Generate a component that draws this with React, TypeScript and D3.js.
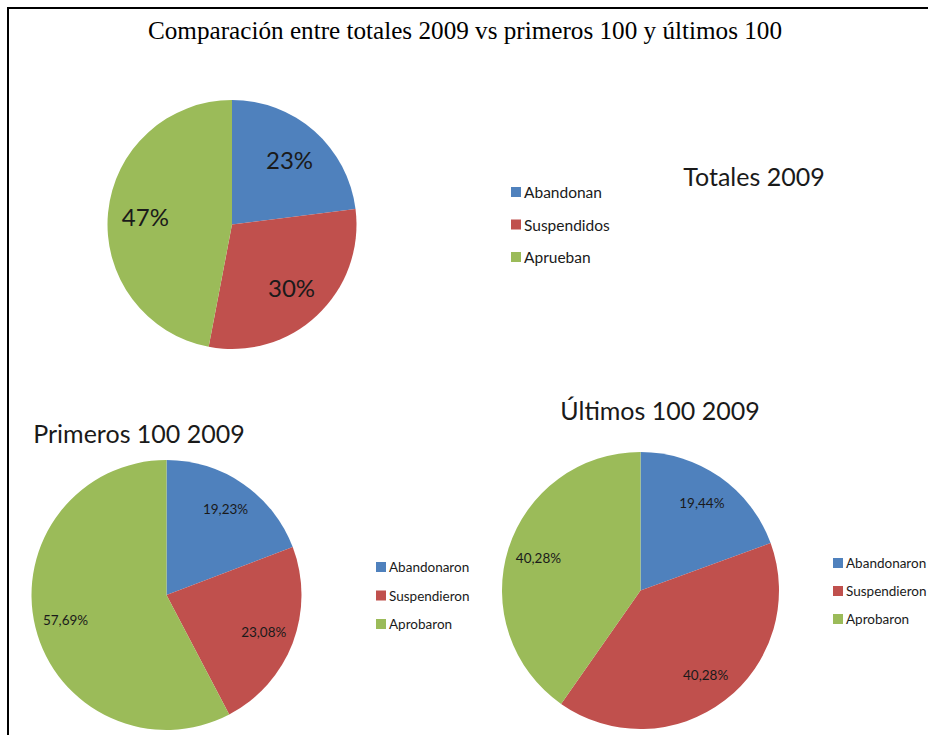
import React from "react";
import * as d3 from "d3";

const colors = ["#4F81BD", "#C0504D", "#9BBB59"];

const title = "Comparación entre totales 2009 vs primeros 100 y últimos 100";

const totalCategories = ["Abandonan", "Suspendidos", "Aprueban"];
const totalValues = [23, 30, 47];
const totalLabels = ["23%", "30%", "47%"];

const firstCategories = ["Abandonaron", "Suspendieron", "Aprobaron"];
const firstValues = [19.23, 23.08, 57.69];
const firstLabels = ["19,23%", "23,08%", "57,69%"];

const lastCategories = ["Abandonaron", "Suspendieron", "Aprobaron"];
const lastValues = [19.44, 40.28, 40.28];
const lastLabels = ["19,44%", "40,28%", "40,28%"];

const FONT = "Lato, 'Open Sans', sans-serif";

type PieProps = {
  values: number[];
  labels: string[];
  cx: number;
  cy: number;
  r: number;
  labelR: number;
  fontSize: number;
};

function Pie({ values, labels, cx, cy, r, labelR, fontSize }: PieProps) {
  const pie = d3.pie<number>().sort(null).value((d) => d);
  const arcs = pie(values);
  const arc = d3.arc<d3.PieArcDatum<number>>().innerRadius(0).outerRadius(r);
  const labelArc = d3
    .arc<d3.PieArcDatum<number>>()
    .innerRadius(labelR)
    .outerRadius(labelR);
  return (
    <g transform={`translate(${cx},${cy})`}>
      {arcs.map((a, i) => (
        <path key={i} d={arc(a) || ""} fill={colors[i]} />
      ))}
      {arcs.map((a, i) => {
        const [x, y] = labelArc.centroid(a);
        return (
          <text
            key={"l" + i}
            x={x}
            y={y}
            textAnchor="middle"
            dominantBaseline="central"
            fontFamily={FONT}
            fontSize={fontSize}
            fill="#1a1a1a"
          >
            {labels[i]}
          </text>
        );
      })}
    </g>
  );
}

type LegendProps = {
  items: string[];
  x: number;
  y: number;
  step: number;
  size: number;
  fontSize: number;
};

function Legend({ items, x, y, step, size, fontSize }: LegendProps) {
  return (
    <g>
      {items.map((t, i) => (
        <g key={i} transform={`translate(${x},${y + i * step})`}>
          <rect x={0} y={-size / 2} width={size} height={size} fill={colors[i]} />
          <text
            x={size + 3}
            y={0}
            dominantBaseline="central"
            fontFamily={FONT}
            fontSize={fontSize}
            fill="#1a1a1a"
          >
            {t}
          </text>
        </g>
      ))}
    </g>
  );
}

export default function App() {
  return (
    <svg
      width={928}
      height={735}
      style={{ position: "absolute", left: 0, top: 0, background: "#fff" }}
    >
      <rect x={0} y={0} width={928} height={735} fill="#fff" />
      <line x1={7.5} y1={8} x2={928} y2={8} stroke="#000" strokeWidth={2} />
      <line x1={8} y1={7} x2={8} y2={735} stroke="#000" strokeWidth={2} />
      <text
        x={465}
        y={39}
        textAnchor="middle"
        fontFamily="'Liberation Serif', 'Times New Roman', serif"
        fontSize={26}
        textLength={634}
        lengthAdjust="spacingAndGlyphs"
        fill="#000"
      >
        {title}
      </text>

      <Pie values={totalValues} labels={totalLabels} cx={232} cy={224.5} r={124.5} labelR={87} fontSize={24} />
      <Legend items={totalCategories} x={511} y={192} step={32.5} size={10} fontSize={15.5} />
      <text x={754} y={186} textAnchor="middle" fontFamily={FONT} fontSize={25} fill="#1a1a1a">
        Totales 2009
      </text>

      <text x={139} y={443} textAnchor="middle" fontFamily={FONT} fontSize={25} fill="#1a1a1a">
        Primeros 100 2009
      </text>
      <Pie values={firstValues} labels={firstLabels} cx={166.5} cy={595} r={135} labelR={104} fontSize={13.5} />
      <Legend items={firstCategories} x={376} y={567} step={28.5} size={10} fontSize={13.5} />

      <text x={660} y={420} textAnchor="middle" fontFamily={FONT} fontSize={25} fill="#1a1a1a">
        Últimos 100 2009
      </text>
      <Pie values={lastValues} labels={lastLabels} cx={640.5} cy={590.5} r={138.5} labelR={107} fontSize={13.5} />
      <Legend items={lastCategories} x={833} y={563} step={28} size={10} fontSize={13.5} />
    </svg>
  );
}
